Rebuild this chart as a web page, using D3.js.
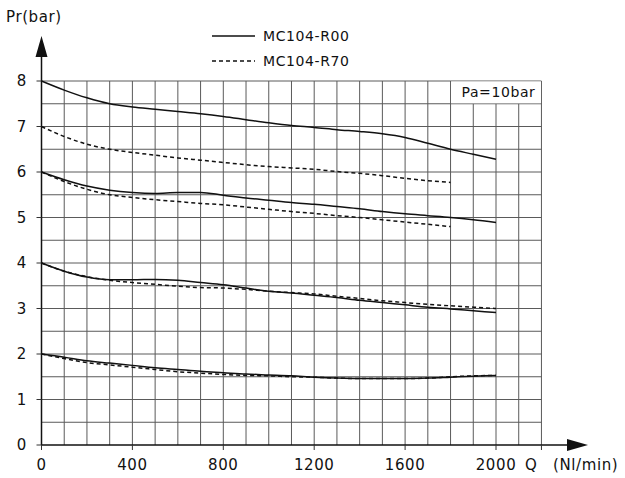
<!DOCTYPE html>
<meta charset='utf-8'>
<title>MC104 flow curves</title>
<style>
  body { margin: 0; background: #fff; }
  svg { display: block; }
  text { font-family: 'DejaVu Sans', sans-serif; font-size: 14px; fill: #111; letter-spacing: 0.6px; }
  .grid line { stroke: #5a5a5a; stroke-width: 1; }
  .curve { fill: none; stroke: #111; stroke-width: 1.5; }
  .dash { stroke-dasharray: 4 3; }
</style>
<body>
<script src='https://cdn.jsdelivr.net/npm/d3@7'></script>
<script>

  // flow Q (Nl/min) and outlet pressure Pr (bar)
  var qR00 = [0, 100, 200, 300, 400, 500, 600, 700, 800, 900, 1000, 1100, 1200, 1300, 1400, 1500, 1600, 1700, 1800, 1900, 2000]
  var qR70 = [0, 100, 200, 300, 400, 500, 600, 700, 800, 900, 1000, 1100, 1200, 1300, 1400, 1500, 1600, 1700, 1800]
  var qR70long = [0, 100, 200, 300, 400, 500, 600, 700, 800, 900, 1000, 1100, 1200, 1300, 1400, 1500, 1600, 1700, 1800, 1900, 2000]

  var r00_8 = [8, 7.8, 7.63, 7.5, 7.43, 7.38, 7.33, 7.28, 7.22, 7.15, 7.08, 7.02, 6.98, 6.93, 6.89, 6.84, 6.76, 6.63, 6.5, 6.39, 6.28]
  var r70_7 = [7, 6.78, 6.61, 6.5, 6.43, 6.37, 6.31, 6.26, 6.21, 6.16, 6.12, 6.09, 6.06, 6.01, 5.97, 5.92, 5.86, 5.81, 5.77]
  var r00_6 = [6, 5.83, 5.69, 5.6, 5.55, 5.53, 5.55, 5.55, 5.49, 5.43, 5.38, 5.33, 5.29, 5.24, 5.19, 5.13, 5.08, 5.04, 5.0, 4.95, 4.89]
  var r70_6 = [6, 5.79, 5.62, 5.5, 5.44, 5.39, 5.35, 5.31, 5.28, 5.23, 5.18, 5.13, 5.09, 5.04, 5.0, 4.95, 4.9, 4.85, 4.8]
  var r00_4 = [4, 3.82, 3.69, 3.63, 3.63, 3.64, 3.62, 3.57, 3.52, 3.45, 3.38, 3.34, 3.29, 3.24, 3.18, 3.13, 3.08, 3.03, 2.99, 2.95, 2.91]
  var r70_4 = [4, 3.82, 3.7, 3.62, 3.57, 3.53, 3.49, 3.46, 3.45, 3.42, 3.38, 3.35, 3.32, 3.27, 3.22, 3.17, 3.13, 3.09, 3.06, 3.03, 3.0]
  var r00_2 = [2, 1.93, 1.85, 1.8, 1.75, 1.7, 1.66, 1.62, 1.59, 1.56, 1.54, 1.52, 1.49, 1.47, 1.46, 1.46, 1.46, 1.47, 1.49, 1.51, 1.53]
  var r70_2 = [2, 1.9, 1.81, 1.76, 1.71, 1.66, 1.61, 1.58, 1.55, 1.53, 1.52, 1.5, 1.49, 1.47, 1.46, 1.46, 1.46, 1.47, 1.5, 1.52, 1.53]

  var xTicks = [0, 400, 800, 1200, 1600, 2000]
  var yTicks = [0, 1, 2, 3, 4, 5, 6, 7, 8]
  var seriesNames = ['MC104-R00', 'MC104-R70']

  var width = 625, height = 478

  var x = d3.scaleLinear().domain([0, 2000]).range([41.5, 496])
  var y = d3.scaleLinear().domain([0, 8]).range([445, 81])

  var svg = d3.select('body').append('svg')
    .attr('width', width)
    .attr('height', height)

  /* ------- GRID ------- */
  var grid = svg.append('g').attr('class', 'grid')
  var vx = d3.range(100, 2201, 100)
  grid.selectAll('line.v').data(vx).enter().append('line')
    .attr('class', 'v')
    .attr('x1', function(d) { return x(d) })
    .attr('x2', function(d) { return x(d) })
    .attr('y1', y(0))
    .attr('y2', function(d) { return (d > 1800 && d < 2200) ? y(7.5) : y(8) })

  var hy = d3.range(0.5, 8.01, 0.5)
  grid.selectAll('line.h').data(hy).enter().append('line')
    .attr('class', 'h')
    .attr('x1', x(0))
    .attr('x2', x(2200))
    .attr('y1', function(d) { return y(d) })
    .attr('y2', function(d) { return y(d) })

  // white box behind the Pa label
  svg.append('rect')
    .attr('x', x(1800) + 0.5).attr('y', y(8) + 0.5)
    .attr('width', x(2200) - x(1800) - 1).attr('height', y(7.5) - y(8) - 1)
    .attr('fill', '#fff')
  svg.append('text')
    .attr('x', x(2200) - 6).attr('y', y(8) + 16)
    .attr('text-anchor', 'end')
    .text('Pa=10bar')

  /* ------- AXES ------- */
  var axisG = svg.append('g').attr('stroke', '#111').attr('stroke-width', 1.5)
  axisG.append('line').attr('x1', x(0)).attr('x2', 575).attr('y1', y(0)).attr('y2', y(0))
  axisG.append('line').attr('x1', x(0)).attr('x2', x(0)).attr('y1', y(0)).attr('y2', 50)
  svg.append('path').attr('d', 'M567,439L588,445L567,451Z').attr('fill', '#111')
  svg.append('path').attr('d', 'M35.5,57L41.5,36L47.5,57Z').attr('fill', '#111')

  var tickG = svg.append('g').attr('stroke', '#333').attr('stroke-width', 1)
  tickG.selectAll('line.xt').data(xTicks.concat([2200])).enter().append('line')
    .attr('x1', function(d) { return x(d) }).attr('x2', function(d) { return x(d) })
    .attr('y1', y(0)).attr('y2', y(0) + 5)
  tickG.selectAll('line.yt').data(yTicks).enter().append('line')
    .attr('x1', x(0) - 5).attr('x2', x(0))
    .attr('y1', function(d) { return y(d) }).attr('y2', function(d) { return y(d) })

  svg.selectAll('text.xl').data(xTicks).enter().append('text')
    .attr('x', function(d) { return x(d) })
    .attr('y', 470)
    .attr('text-anchor', 'middle')
    .style('font-size', '15px')
    .text(function(d) { return d })

  svg.selectAll('text.yl').data(yTicks).enter().append('text')
    .attr('x', 27)
    .attr('y', function(d) { return y(d) + 5 })
    .attr('text-anchor', 'end')
    .style('font-size', '15px')
    .text(function(d) { return d })

  svg.append('text').attr('x', 6).attr('y', 22).style('font-size', '15px').text('Pr(bar)')
  svg.append('text').attr('x', 525).attr('y', 470).style('font-size', '15px').text('Q')
  svg.append('text').attr('x', 553).attr('y', 470).style('font-size', '15px').text('(Nl/min)')

  /* ------- CURVES ------- */
  var line = d3.line()
    .x(function(d) { return x(d[0]) })
    .y(function(d) { return y(d[1]) })
    .curve(d3.curveMonotoneX)

  var curves = [
    { q: qR00, p: r00_8, dash: false },
    { q: qR70, p: r70_7, dash: true },
    { q: qR00, p: r00_6, dash: false },
    { q: qR70, p: r70_6, dash: true },
    { q: qR00, p: r00_4, dash: false },
    { q: qR70long, p: r70_4, dash: true },
    { q: qR00, p: r00_2, dash: false },
    { q: qR70long, p: r70_2, dash: true }
  ]

  svg.append('g').selectAll('path').data(curves).enter().append('path')
    .attr('class', function(d) { return d.dash ? 'curve dash' : 'curve' })
    .attr('d', function(d) { return line(d.q.map(function(v, i) { return [v, d.p[i]] })) })

  /* ------- LEGEND ------- */
  var legend = svg.append('g')
  legend.selectAll('line').data(seriesNames).enter().append('line')
    .attr('class', function(d, i) { return i ? 'curve dash' : 'curve' })
    .attr('x1', 212).attr('x2', 255)
    .attr('y1', function(d, i) { return 36 + i * 25 })
    .attr('y2', function(d, i) { return 36 + i * 25 })
  legend.selectAll('text').data(seriesNames).enter().append('text')
    .attr('x', 263)
    .attr('y', function(d, i) { return 41 + i * 25 })
    .text(function(d) { return d })

</script>
</body>
